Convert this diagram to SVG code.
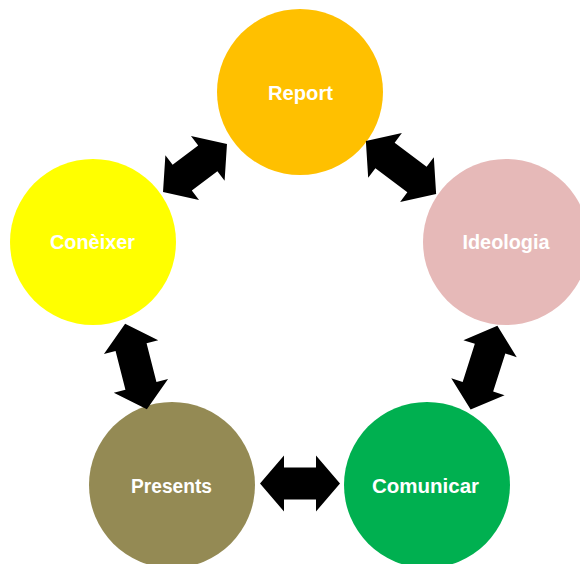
<svg xmlns="http://www.w3.org/2000/svg" width="580" height="564" viewBox="0 0 580 564">
<style>
.lbl{font-family:"Liberation Sans","DejaVu Sans",sans-serif;font-size:20px;font-weight:bold;fill:#ffffff;text-anchor:middle}
.arr{fill:#000000}
</style>
<defs>
<path id="a80" d="M-40,0 L-16,-28 L-16,-16 L16,-16 L16,-28 L40,0 L16,28 L16,16 L-16,16 L-16,28 Z"/>
<path id="a88" d="M-44,0 L-20,-28 L-20,-16 L20,-16 L20,-28 L44,0 L20,28 L20,16 L-20,16 L-20,28 Z"/>
</defs>
<rect width="580" height="564" fill="#ffffff"/>
<g id="report"><circle cx="300" cy="92" r="83" fill="#FFC000"/><text class="lbl" x="300.5" y="100" textLength="65" lengthAdjust="spacingAndGlyphs">Report</text></g>
<g id="coneixer"><circle cx="93" cy="242" r="83" fill="#FFFF00"/><text class="lbl" x="92.5" y="249" textLength="85" lengthAdjust="spacingAndGlyphs">Conèixer</text></g>
<g id="ideologia"><circle cx="506" cy="242" r="83" fill="#E6B9B8"/><text class="lbl" x="506" y="249" textLength="87" lengthAdjust="spacingAndGlyphs">Ideologia</text></g>
<g id="presents"><circle cx="172" cy="485" r="83" fill="#948A54"/><text class="lbl" x="171.5" y="493" textLength="81" lengthAdjust="spacingAndGlyphs">Presents</text></g>
<g id="comunicar"><circle cx="427" cy="485" r="83" fill="#00B050"/><text class="lbl" x="425.5" y="493" textLength="107" lengthAdjust="spacingAndGlyphs">Comunicar</text></g>
<g id="connectors" class="arr">
<use href="#a80" transform="translate(195,168) rotate(-36.9)"/>
<use href="#a88" transform="translate(401,167.5) rotate(37)"/>
<use href="#a88" transform="translate(136,366.5) rotate(75.7)"/>
<use href="#a88" transform="translate(484,367.7) rotate(107.7)"/>
<use href="#a80" transform="translate(300,483.5)"/>
</g>
</svg>
